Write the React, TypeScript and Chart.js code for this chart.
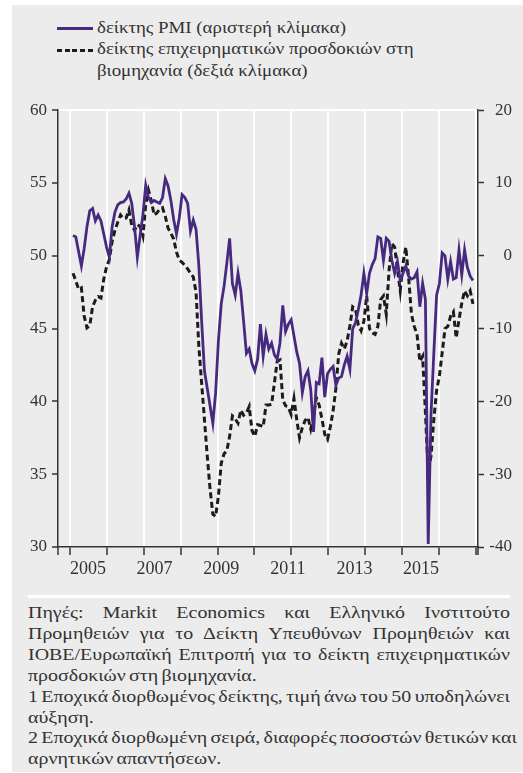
import React, { useEffect, useMemo, useRef } from 'react';
import { Chart, registerables } from 'chart.js';

Chart.register(...registerables);

// Monthly observations (index 0 = first month shown)
const pmiValues = [
  51.4, 51.3, 50.3, 49.3, 50.5, 52.0, 53.1, 53.25, 52.4, 52.8, 52.4, 51.5,
  50.6, 49.9, 52.0, 53.0, 53.5, 53.65, 53.7, 53.9, 54.3, 53.6, 52.0, 49.9,
  51.4, 52.8, 54.85, 54.0, 53.65, 53.8, 53.7, 53.6, 54.0, 55.3, 54.8, 53.8,
  52.5, 51.5, 52.6, 54.2, 54.0, 53.6, 51.7, 52.45, 51.8, 49.3, 45.5, 42.1,
  40.9, 39.7, 38.5, 40.6, 44.2, 46.7, 47.9, 49.5, 51.2, 48.1, 47.3, 48.8,
  47.6, 45.5, 43.3, 43.6, 42.6, 42.1, 42.9, 45.3, 43.1, 44.6, 43.6, 44.0,
  43.2, 42.9, 44.0, 46.6, 44.8, 45.3, 45.6, 44.5, 43.4, 42.6, 40.6, 41.7,
  42.1, 40.8, 37.9, 41.3, 41.2, 43.0, 40.3, 41.9, 42.2, 42.4, 41.1, 41.6,
  41.7, 42.5, 43.1, 42.2, 45.0, 45.4, 46.3, 47.3, 48.8, 47.4, 48.8, 49.4,
  49.8, 51.3, 51.2, 49.7, 51.2, 51.0, 49.7, 48.8, 49.6, 48.3, 48.8, 49.3,
  48.6, 48.4, 48.5, 48.9, 46.5, 48.1, 47.0, 30.2, 39.1, 43.3, 47.3, 48.1,
  50.2, 50.0, 48.4, 49.6, 48.4, 48.5, 50.4, 48.7, 50.4, 49.2, 48.6, 48.3
];

const expectationValues = [
  -2.4, -3.4, -4.6, -4.4, -8.3, -9.9, -9.6, -7.0, -6.1, -5.6, -5.8, -3.2,
  -1.5, -0.5, 2.0, 3.5, 4.6, 5.6, 5.1, 5.2, 6.3, 4.2, 3.5, 4.3,
  4.0, 2.7, 7.0, 9.0, 7.6, 5.6, 5.9, 6.4, 6.6, 5.4, 3.8, 3.1,
  2.3, 0.5, -0.6, -0.9, -1.3, -1.8, -2.4, -2.9, -5.0, -12.5, -17.5, -22.5,
  -27.5, -32.0, -35.5, -35.8, -33.0, -28.5, -27.2, -26.8, -24.8, -22.0, -22.4, -23.0,
  -21.2, -21.9, -21.6, -20.7, -24.0, -24.8, -23.2, -23.3, -23.5, -20.5, -20.5, -20.4,
  -17.5, -14.5, -14.3, -19.8, -20.6, -20.8, -21.8, -19.6, -22.5, -25.0, -23.6, -22.6,
  -22.2, -23.8, -22.0, -19.5, -20.5, -22.4, -24.5, -25.2, -23.5, -21.3, -18.2, -13.5,
  -12.0, -12.8, -11.7, -9.6, -7.0, -7.3, -9.5, -10.3, -9.0, -5.5, -10.0, -10.6,
  -10.8, -9.7, -6.0, -5.5, -8.0, -2.0, 1.7, 1.2, -1.8, -4.8, -1.0, 1.2,
  -3.0, -8.0, -9.7, -10.8, -14.5, -13.8, -21.5, -29.8, -27.5, -22.5, -18.5, -16.5,
  -13.3, -10.0, -9.7, -8.3, -7.7, -11.3, -8.8, -6.5, -4.8, -5.5, -4.8, -6.6
];

const yearLabels = [2005, 2007, 2009, 2011, 2013, 2015];
const leftTicks = [30, 35, 40, 45, 50, 55, 60];
const rightTicks = [-40, -30, -20, -10, 0, 10, 20];
const gridMarks = [0, 1, 2, 3, 4, 5, 6, 7, 8, 9, 10, 11];

const legendPmi = 'δείκτης PMI (αριστερή κλίμακα)';
const legendExpLine1 = 'δείκτης επιχειρηματικών προσδοκιών στη';
const legendExpLine2 = 'βιομηχανία (δεξιά κλίμακα)';

const noteLines: { text: string; justify: boolean }[] = [
  { text: 'Πηγές: Markit Economics και Ελληνικό Ινστιτούτο', justify: true },
  { text: 'Προμηθειών για το Δείκτη Υπευθύνων Προμηθειών και', justify: true },
  { text: 'IOBE/Ευρωπαϊκή Επιτροπή για το δείκτη επιχειρηματικών', justify: true },
  { text: 'προσδοκιών στη βιομηχανία.', justify: false },
  { text: '1 Εποχικά διορθωμένος δείκτης, τιμή άνω του 50 υποδηλώνει', justify: true },
  { text: 'αύξηση.', justify: false },
  { text: '2 Εποχικά διορθωμένη σειρά, διαφορές ποσοστών θετικών και', justify: true },
  { text: 'αρνητικών απαντήσεων.', justify: false },
];

const PURPLE = '#472a80';
const DARK = '#1c1c1c';
const AXIS = '#333333';
const BG = '#ececec';
const FONT = '"Liberation Serif", "Times New Roman", serif';
const NOTE_SIZE = 17;
const NOTE_WIDTH = 482;
const NOTE_WORD_SPACING = -1.5;
const LEGEND_STRETCH = 1.11;

function measureWidth(text: string, font: string): number {
  try {
    const c = document.createElement('canvas').getContext('2d');
    if (!c) return 0;
    c.font = font;
    return c.measureText(text).width;
  } catch (e) {
    return 0;
  }
}

export default function App() {
  const canvasRef = useRef<HTMLCanvasElement | null>(null);

  const noteStretch = useMemo(() => {
    const longest = noteLines[4].text;
    const spaces = longest.split(' ').length - 1;
    const w = measureWidth(longest, `${NOTE_SIZE}px "Liberation Serif"`);
    if (!w) return 1.12;
    return NOTE_WIDTH / (w + spaces * NOTE_WORD_SPACING + 1);
  }, []);

  useEffect(() => {
    if (!canvasRef.current) return;
    const tickFont = { family: FONT, size: 17 };
    const chart = new Chart(canvasRef.current, {
      type: 'line',
      data: {
        datasets: [
          {
            label: legendPmi,
            data: pmiValues.map((v, i) => ({ x: i, y: v })),
            xAxisID: 'x',
            yAxisID: 'y',
            borderColor: PURPLE,
            borderWidth: 2.8,
            pointRadius: 0,
            tension: 0,
            fill: false,
          },
          {
            label: legendExpLine1 + ' ' + legendExpLine2,
            data: expectationValues.map((v, i) => ({ x: i, y: v })),
            xAxisID: 'x',
            yAxisID: 'y2',
            borderColor: DARK,
            borderWidth: 3,
            borderDash: [6, 3.5],
            pointRadius: 0,
            tension: 0,
            fill: false,
          },
        ],
      },
      options: {
        animation: false,
        responsive: true,
        maintainAspectRatio: false,
        layout: { padding: { left: 0, right: 11, top: 15, bottom: 0 } },
        plugins: { legend: { display: false }, tooltip: { enabled: false } },
        scales: {
          x: {
            type: 'linear',
            display: false,
            min: -5.36,
            max: 144.8,
          },
          xg: {
            type: 'linear',
            position: 'bottom',
            weight: 0,
            min: -0.325,
            max: 11.057,
            afterBuildTicks: (axis: any) => {
              axis.ticks = [axis.min, ...gridMarks, axis.max].map((v) => ({ value: v }));
            },
            afterFit: (axis: any) => {
              axis.height = 8;
            },
            grid: {
              display: true,
              drawOnChartArea: true,
              drawTicks: true,
              tickLength: 8,
              lineWidth: 2,
              tickWidth: 1.5,
              tickColor: AXIS,
              color: (ctx: any) =>
                ctx.tick && Number.isInteger(ctx.tick.value) ? '#ffffff' : 'rgba(0,0,0,0)',
            },
            border: { display: true, color: AXIS, width: 1.5 },
            ticks: { display: false },
          },
          xl: {
            type: 'linear',
            position: 'bottom',
            weight: 1,
            min: 2004.1,
            max: 2016.71,
            afterBuildTicks: (axis: any) => {
              axis.ticks = yearLabels.map((v) => ({ value: v }));
            },
            afterFit: (axis: any) => {
              axis.height = 30;
            },
            grid: { display: false, drawTicks: false },
            border: { display: false },
            ticks: {
              autoSkip: false,
              maxRotation: 0,
              padding: 3,
              color: AXIS,
              font: { family: FONT, size: 18 },
              callback: (v: any) => String(v),
            },
          },
          y: {
            type: 'linear',
            position: 'left',
            min: 30,
            max: 60,
            afterBuildTicks: (axis: any) => {
              axis.ticks = leftTicks.map((v) => ({ value: v }));
            },
            afterFit: (axis: any) => {
              axis.width = 46;
            },
            grid: {
              display: true,
              drawOnChartArea: true,
              drawTicks: true,
              tickLength: 6,
              lineWidth: 2,
              tickWidth: 1.5,
              tickColor: AXIS,
              color: (ctx: any) => (ctx.tick && ctx.tick.value === 60 ? '#ffffff' : 'rgba(0,0,0,0)'),
            },
            border: { display: true, color: AXIS, width: 1.5 },
            ticks: {
              padding: 5,
              color: AXIS,
              font: tickFont,
              callback: (v: any) => String(v),
            },
          },
          y2: {
            type: 'linear',
            position: 'right',
            min: -40,
            max: 20,
            afterBuildTicks: (axis: any) => {
              axis.ticks = rightTicks.map((v) => ({ value: v }));
            },
            afterFit: (axis: any) => {
              axis.width = 34;
            },
            grid: {
              display: true,
              drawOnChartArea: false,
              drawTicks: true,
              tickLength: 6,
              tickWidth: 1.5,
              tickColor: AXIS,
              color: AXIS,
            },
            border: { display: true, color: AXIS, width: 1.5 },
            ticks: {
              padding: 3,
              crossAlign: 'far',
              color: AXIS,
              font: tickFont,
              callback: (v: any) => (v < 0 ? '-' + Math.abs(v) : String(v)),
            },
          },
        },
      },
    } as any);
    return () => chart.destroy();
  }, []);

  return (
    <div
      style={{
        position: 'absolute',
        left: 12,
        top: 5,
        width: 511,
        height: 767,
        background: BG,
        fontFamily: FONT,
        color: AXIS,
      }}
    >
      <div style={{ position: 'absolute', left: 45, top: 22, width: 36, height: 3, background: PURPLE }} />
      <div
        style={{
          position: 'absolute',
          left: 45,
          top: 44,
          width: 36,
          height: 3,
          background: `repeating-linear-gradient(to right, ${DARK} 0px, ${DARK} 5px, transparent 5px, transparent 7.75px)`,
        }}
      />
      <div
        style={{
          position: 'absolute',
          left: 85,
          top: 11.5,
          fontSize: 17,
          lineHeight: '21.5px',
          whiteSpace: 'nowrap',
          transform: `scaleX(${LEGEND_STRETCH})`,
          transformOrigin: '0 0',
        }}
      >
        <div>{legendPmi}</div>
        <div>{legendExpLine1}</div>
        <div>{legendExpLine2}</div>
      </div>
      <div style={{ position: 'absolute', left: 0, top: 90, width: 511, height: 490 }}>
        <canvas ref={canvasRef} />
      </div>
      <div style={{ position: 'absolute', left: 16, top: 589.5, width: 482, height: 3, background: '#ffffff' }} />
      <div
        style={{
          position: 'absolute',
          left: 16,
          top: 598,
          width: NOTE_WIDTH / noteStretch,
          fontSize: NOTE_SIZE,
          lineHeight: '20.9px',
          transform: `scaleX(${noteStretch})`,
          transformOrigin: '0 0',
        }}
      >
        {noteLines.map((l, k) => (
          <div
            key={k}
            style={{
              whiteSpace: 'nowrap',
              wordSpacing: `${NOTE_WORD_SPACING}px`,
              textAlign: l.justify ? 'justify' : 'left',
              textAlignLast: l.justify ? 'justify' : 'left',
            } as any}
          >
            {l.text}
          </div>
        ))}
      </div>
    </div>
  );
}
